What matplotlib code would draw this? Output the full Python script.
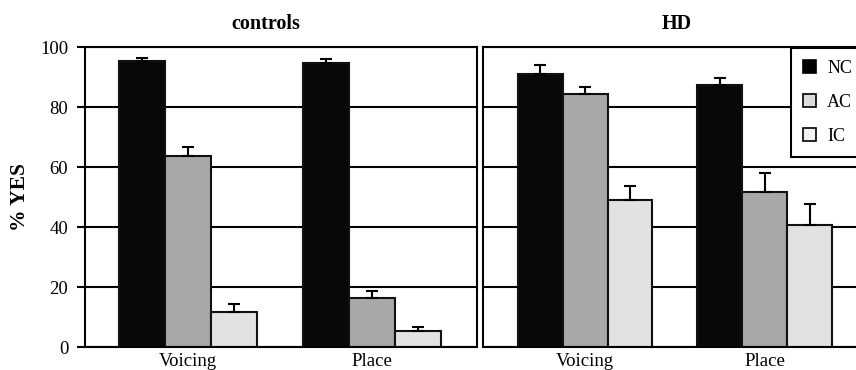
import numpy as np
import matplotlib
matplotlib.use("Agg")
import matplotlib.pyplot as plt
from matplotlib.patches import Patch

plt.rcParams["font.family"] = ["Liberation Serif", "DejaVu Serif"]

# data
categories = ["Voicing", "Place"]
conditions = ["NC", "AC", "IC"]

controls_mean = {"NC": [95.3, 94.8], "AC": [63.7, 16.5], "IC": [11.7, 5.2]}
controls_err = {"NC": [1.1, 1.2], "AC": [3.0, 2.1], "IC": [2.5, 1.5]}

hd_mean = {"NC": [90.9, 87.2], "AC": [84.2, 51.8], "IC": [48.9, 40.6]}
hd_err = {"NC": [3.0, 2.4], "AC": [2.5, 6.1], "IC": [4.9, 7.2]}

colors = {"NC": "#080808", "AC": "#a8a8a8", "IC": "#e2e2e2"}
legend_colors = {"NC": "#000000", "AC": "#dcdcdc", "IC": "#f2f2f2"}

W, H = 856, 370
fig = plt.figure(figsize=(W / 100, H / 100), dpi=100)

axL = fig.add_axes([85 / W, (H - 347) / H, 392 / W, 300 / H])
axR = fig.add_axes([483 / W, (H - 347) / H, 373 / W, 300 / H])

bw = 0.25
x = np.arange(len(categories))


def draw_panel(ax, means, errs):
    for i, c in enumerate(conditions):
        pos = x + (i - 1) * bw
        ax.bar(pos, means[c], width=bw, color=colors[c], edgecolor="#111111",
               linewidth=1.5, zorder=2)
        ax.errorbar(pos, means[c], yerr=[np.zeros(len(errs[c])), errs[c]],
                    fmt="none", ecolor="black", elinewidth=1.5, capsize=4,
                    capthick=1.5, zorder=3)
    ax.set_ylim(0, 100)
    ax.set_yticks(np.arange(0, 101, 20))
    ax.yaxis.grid(True, color="black", linewidth=1.5)
    ax.set_axisbelow(True)
    ax.set_xticks(x)
    ax.set_xticklabels(categories, fontsize=13.5)
    ax.tick_params(axis="x", length=0, pad=4)
    for s in ax.spines.values():
        s.set_linewidth(1.5)


draw_panel(axL, controls_mean, controls_err)
draw_panel(axR, hd_mean, hd_err)

axL.set_xlim(-0.56, 1.57)
axR.set_xlim(-0.567, 1.506)

axL.tick_params(axis="y", direction="out", length=6, width=1.5, labelsize=13.5, pad=6)
axR.tick_params(axis="y", length=0, labelleft=False)
axR.spines["right"].set_visible(False)

axL.set_ylabel("% YES", fontsize=15.5, fontweight="bold")
axL.yaxis.set_label_coords(-0.14, 0.5)

axL.text(0.462, 1.0 + 23 / 300, "controls", transform=axL.transAxes,
         ha="center", va="center", fontsize=14.5, fontweight="bold")
axR.text(0.52, 1.0 + 23 / 300, "HD", transform=axR.transAxes,
         ha="center", va="center", fontsize=14.5, fontweight="bold")

handles = [Patch(facecolor=legend_colors[c], edgecolor="black", linewidth=1.2)
           for c in conditions]
leg = axR.legend(handles, conditions, loc="upper left",
                 bbox_to_anchor=(791 / W, (H - 48) / H),
                 bbox_transform=fig.transFigure, fontsize=13,
                 handlelength=0.75, handleheight=0.75, handletextpad=0.6,
                 labelspacing=0.95, borderpad=0.65, borderaxespad=0,
                 fancybox=False, framealpha=1, edgecolor="black")
leg.get_frame().set_linewidth(1.5)

fig.savefig("out.png", dpi=100)
